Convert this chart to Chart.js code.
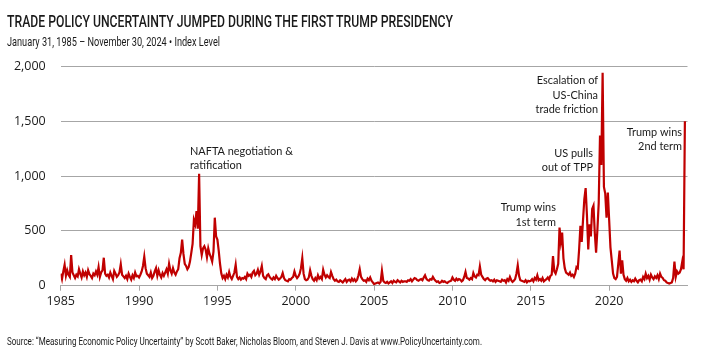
<!DOCTYPE html>
<html>
<head>
<meta charset="utf-8">
<script src="https://cdn.jsdelivr.net/npm/chart.js@4.4.1/dist/chart.umd.min.js"></script>
<style>
  body { margin: 0; background: #fff; }
  #wrap { position: relative; width: 711px; height: 359px; overflow: hidden; color: #1a1a1a; }
  #chart { position: absolute; left: 0; top: 0; }
  .txt { position: absolute; left: 7px; display: inline-block; white-space: nowrap; transform-origin: 0 0; }
  #titulo { top: 14px; font: 500 16.5px/16px Roboto, sans-serif; }
  #subtitulo { top: 35px; font: 400 13.5px/13px Roboto, sans-serif; }
  #fuente { top: 335px; font: 400 11.5px/12px Roboto, sans-serif; }
</style>
</head>
<body>
<div id="wrap">
  <canvas id="chart" width="711" height="359"></canvas>
  <div id="titulo" class="txt" data-w="446">TRADE POLICY UNCERTAINTY JUMPED DURING THE FIRST TRUMP PRESIDENCY</div>
  <div id="subtitulo" class="txt" data-w="213">January 31, 1985 – November 30, 2024 • Index Level</div>
  <div id="fuente" class="txt" data-w="475">Source: “Measuring Economic Policy Uncertainty” by Scott Baker, Nicholas Bloom, and Steven J. Davis at www.PolicyUncertainty.com.</div>
</div>
<script>
// Indice mensual de incertidumbre de politica comercial (ene 1985 - nov 2024)
const anioInicio = 1985;

const tpu1985_1994 = [
  110, 60, 130, 190, 90, 140, 100, 80, 280, 120, 95, 70,
  100, 85, 150, 110, 75, 130, 95, 120, 80, 140, 105, 90,
  70, 110, 95, 130, 100, 170, 80, 120, 140, 255, 110, 90,
  100, 75, 120, 90, 60, 135, 110, 80, 95, 120, 195, 100,
  85, 70, 90, 60, 110, 80, 55, 95, 70, 120, 85, 90,
  75, 100, 130, 180, 265, 160, 110, 95, 80, 120, 70, 90,
  130, 160, 90, 140, 100, 75, 115, 90, 120, 150, 110, 200,
  140, 110, 160, 120, 100, 130, 150, 250, 300, 420, 290, 200,
  180, 150, 170, 220, 300, 380, 600, 560, 680, 520, 1020, 360,
  280, 340, 360, 330, 260, 340, 290, 260, 220, 310, 620, 450
];
const tpu1995_2004 = [
  420, 320, 200, 110, 70, 90, 60, 100, 75, 125, 80, 60,
  90, 120, 190, 80, 60, 75, 55, 70, 65, 80, 60, 110,
  90, 100, 80, 120, 135, 95, 110, 145, 100, 130, 180, 90,
  70, 60, 95, 105, 80, 65, 55, 75, 60, 90, 70, 55,
  65, 80, 115, 70, 50, 45, 40, 60, 55, 70, 80, 130,
  90, 70, 85, 110, 160, 250, 110, 60, 50, 55, 75, 140,
  90, 60, 45, 70, 50, 95, 65, 80, 60, 145, 100, 75,
  95, 80, 70, 125, 90, 60, 45, 55, 40, 35, 50, 40,
  30, 45, 60, 35, 50, 55, 40, 65, 45, 60, 40, 55,
  95, 150, 80, 60, 45, 50, 35, 65, 50, 75, 45, 30
];
const tpu2005_2014 = [
  15, 20, 25, 30, 20, 35, 135, 45, 30, 25, 35, 20,
  30, 40, 25, 45, 35, 30, 50, 40, 30, 45, 35, 40,
  40, 35, 50, 45, 60, 40, 55, 70, 65, 50, 45, 55,
  60, 50, 75, 95, 65, 50, 45, 60, 55, 80, 60, 45,
  35, 40, 25, 30, 45, 35, 40, 30, 25, 35, 40, 45,
  75, 55, 45, 65, 50, 60, 55, 40, 50, 80, 125, 70,
  65, 55, 70, 60, 115, 85, 75, 100, 95, 175, 100, 80,
  60, 50, 65, 70, 55, 45, 50, 40, 55, 35, 50, 45,
  40, 35, 55, 45, 50, 30, 60, 45, 80, 50, 35, 45,
  60, 110, 185, 90, 50, 45, 40, 35, 50, 30, 45, 40
];
const tpu2015_2024 = [
  45, 60, 40, 70, 55, 95, 50, 60, 45, 70, 40, 50,
  60, 75, 55, 90, 100, 270, 130, 110, 150, 200, 530, 400,
  485, 250, 160, 120, 110, 100, 120, 90, 100, 80, 110, 170,
  160, 330, 545, 400, 600, 790, 890, 640, 330, 560, 450, 700,
  730, 480, 300, 510, 750, 1370, 1100, 1940, 900, 840, 620, 850,
  600, 350, 230, 110, 70, 60, 80, 200, 320, 110, 230, 100,
  60, 45, 70, 40, 55, 35, 50, 40, 65, 45, 30, 50,
  55, 40, 80, 60, 110, 70, 90, 55, 100, 75, 60, 85,
  70, 95, 60, 110, 80, 70, 50, 45, 30, 25, 20, 25,
  30, 70, 220, 80, 130, 110, 120, 150, 220, 150, 1500
];

const ticksX = [1985, 1990, 1995, 2000, 2005, 2010, 2015, 2020];
const ticksY = [0, 500, 1000, 1500, 2000];

// notas: x en anios, y en nivel del indice (centro de la primera linea)
const notas = [
  { x: 1993.25, y: 1227, alinear: "left", lineas: ["NAFTA negotiation &", "ratification"] },
  { x: 2016.6, y: 713, alinear: "right", lineas: ["Trump wins", "1st term"] },
  { x: 2018.97, y: 1209, alinear: "right", lineas: ["US pulls", "out of TPP"] },
  { x: 2019.29, y: 1870, alinear: "right", lineas: ["Escalation of", "US-China", "trade friction"] },
  { x: 2024.65, y: 1400, alinear: "right", lineas: ["Trump wins", "2nd term"] }
];

const valores = [...tpu1985_1994, ...tpu1995_2004, ...tpu2005_2014, ...tpu2015_2024];
const puntos = valores.map((v, i) => ({ x: anioInicio + i / 12, y: v }));

const fuenteEjes = { family: "'Open Sans', sans-serif", size: 12.5 };
const gris = "#a6a6a6";

const notasPlugin = {
  id: "notas",
  afterDatasetsDraw(chart) {
    const { ctx, scales } = chart;
    ctx.save();
    ctx.font = "12px Lato, sans-serif";
    ctx.fillStyle = "#1a1a1a";
    ctx.textBaseline = "middle";
    notas.forEach((n) => {
      ctx.textAlign = n.alinear;
      const px = scales.x.getPixelForValue(n.x);
      const py = scales.y.getPixelForValue(n.y);
      n.lineas.forEach((t, k) => {
        ctx.save();
        ctx.translate(px, py + k * 14.5);
        ctx.scale(0.91, 1);
        ctx.fillText(t, 0, 0);
        ctx.restore();
      });
    });
    ctx.restore();
  }
};

function dibujar() {
  const ctx = document.getElementById("chart").getContext("2d");
  new Chart(ctx, {
    type: "line",
    data: {
      datasets: [{
        data: puntos,
        borderColor: "#c00000",
        borderWidth: 2.2,
        pointRadius: 0,
        tension: 0,
        fill: false
      }]
    },
    options: {
      responsive: false,
      animation: false,
      devicePixelRatio: 1,
      layout: { padding: { top: 66.3, left: 10, right: 23.5, bottom: 43.3 } },
      plugins: { legend: { display: false }, tooltip: { enabled: false } },
      scales: {
        x: {
          type: "linear",
          min: 1985,
          max: 2025,
          afterBuildTicks: (s) => { s.ticks = ticksX.map((v) => ({ value: v })); },
          afterFit: (s) => { s.height = 30; },
          ticks: { callback: (v) => String(v), font: fuenteEjes, color: "#1a1a1a", padding: 3, maxRotation: 0, autoSkip: false },
          grid: { drawOnChartArea: false, drawTicks: true, tickLength: 5, tickColor: gris },
          border: { display: true, color: gris }
        },
        y: {
          min: 0,
          max: 2000,
          afterBuildTicks: (s) => { s.ticks = ticksY.map((v) => ({ value: v })); },
          afterFit: (s) => { s.width = 50.7; },
          ticks: { callback: (v) => v.toLocaleString("en-US"), font: fuenteEjes, color: "#1a1a1a", padding: 15 },
          grid: { color: gris, drawTicks: false },
          border: { display: false }
        }
      }
    },
    plugins: [notasPlugin]
  });
}

// ajustar ancho de los textos al de la referencia
function ajustarTextos() {
  document.querySelectorAll(".txt").forEach((el) => {
    const w = el.getBoundingClientRect().width;
    el.style.transform = "scaleX(" + (parseFloat(el.dataset.w) / w) + ")";
  });
}

document.fonts.ready.then(() => {
  ajustarTextos();
  dibujar();
});
</script>
</body>
</html>
